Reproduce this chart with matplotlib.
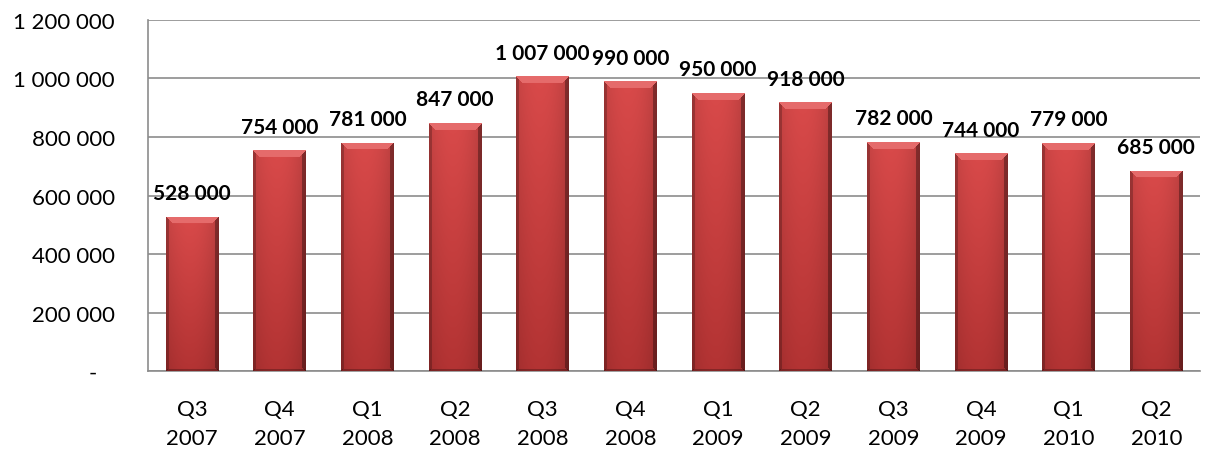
import numpy as np
import matplotlib
matplotlib.use("Agg")
import matplotlib.pyplot as plt
from matplotlib.ticker import FuncFormatter

plt.rcParams['font.family'] = ['Lato', 'DejaVu Sans']

quarters = ["Q3", "Q4", "Q1", "Q2", "Q3", "Q4", "Q1", "Q2", "Q3", "Q4", "Q1", "Q2"]
years = ["2007", "2007", "2008", "2008", "2008", "2008", "2009", "2009", "2009", "2009", "2010", "2010"]
values = [528000, 754000, 781000, 847000, 1007000, 990000, 950000, 918000, 782000, 744000, 779000, 685000]

labels = [q + "\n" + y for q, y in zip(quarters, years)]


def spaced(v):
    return "{:,}".format(int(v)).replace(",", " ")


def ytick(v, pos):
    if v == 0:
        return "-   "
    return spaced(v)


fig = plt.figure(figsize=(12.05, 4.56), dpi=100)
ax = fig.add_axes([0.123, 0.184, 0.873, 0.770])

x = np.arange(len(values))
bars = ax.bar(x, values, width=0.6, color="#c83c3c", zorder=2)

ax.set_xlim(-0.5, len(values) - 0.5)
ax.set_ylim(0, 1200000)
ax.set_yticks(np.arange(0, 1200001, 200000))
ax.yaxis.set_major_formatter(FuncFormatter(ytick))
ax.set_xticks(x)
ax.set_xticklabels(labels, fontsize=16, linespacing=1.6)
ax.tick_params(axis="y", labelsize=16, length=0, pad=24)
ax.tick_params(axis="x", length=0, pad=20)
ax.grid(axis="y", color="#8c8c8c", linewidth=1.2, zorder=0)
ax.set_axisbelow(True)
for s in ["top", "right"]:
    ax.spines[s].set_visible(False)
ax.spines["left"].set_color("#8c8c8c")
ax.spines["bottom"].set_color("#8c8c8c")
ax.spines["left"].set_linewidth(1.2)
ax.spines["bottom"].set_linewidth(1.2)

# bevelled gradient fill on each bar
fig.canvas.draw()
for b in bars:
    x0, y0, w, h = b.get_x(), b.get_y(), b.get_width(), b.get_height()
    p0 = ax.transData.transform((x0, y0))
    p1 = ax.transData.transform((x0 + w, y0 + h))
    wp = max(int(round(p1[0] - p0[0])), 2)
    hp = max(int(round(p1[1] - p0[1])), 2)
    rr, cc = np.mgrid[0:hp, 0:wp]
    t = rr / (hp - 1)
    u = cc / (wp - 1)
    base = np.zeros((hp, wp, 3))
    top = np.array([0.85, 0.29, 0.29])
    bot = np.array([0.70, 0.20, 0.20])
    for k in range(3):
        base[..., k] = top[k] * (1 - t) + bot[k] * t
    shade = 1 - 0.12 * np.abs(u - 0.45) ** 2 * 4
    base *= shade[..., None]
    d = 7
    dt = rr
    db = hp - 1 - rr
    dl = cc
    dr = wp - 1 - cc
    m = np.minimum(np.minimum(dt, db), np.minimum(dl, dr))
    tb = (dt == m) & (dt < d)
    lb = (dl == m) & (dl < 3) & ~tb
    rb = (dr == m) & (dr < 4) & ~tb
    bb = (db == m) & (db < 2)
    base[tb] = np.array([0.90, 0.42, 0.42])
    base[lb] = base[lb] * 0.78
    base[rb] = base[rb] * 0.68
    base[bb] = base[bb] * 0.75
    im = ax.imshow(base, extent=[x0, x0 + w, y0, y0 + h], aspect="auto",
                   interpolation="bilinear", zorder=3)
    im.set_clip_path(b)
    ax.annotate(spaced(h), (x0 + w / 2, h), xytext=(0, 10), textcoords="offset points",
                ha="center", va="bottom", fontsize=15, fontweight="bold", zorder=4)

ax.set_xlim(-0.5, len(values) - 0.5)
ax.set_ylim(0, 1200000)

fig.savefig("out.png", dpi=100)
